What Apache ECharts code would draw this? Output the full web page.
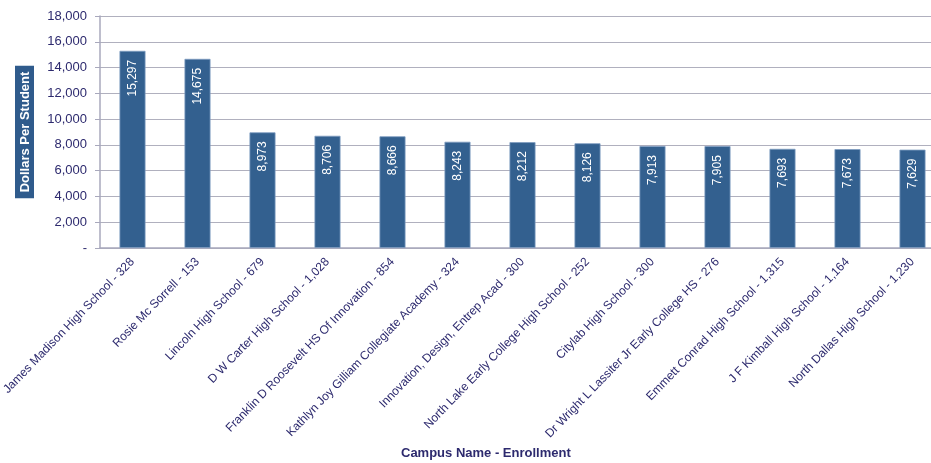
<!DOCTYPE html>
<html><head><meta charset="utf-8">
<script src="https://cdn.jsdelivr.net/npm/echarts@6/dist/echarts.min.js"></script>
<style>html,body{margin:0;padding:0;background:#fff}#c{width:931px;height:463px}</style>
</head><body><div id="c"></div>
<script>
const categories = [
  "James Madison High School - 328",
  "Rosie Mc Sorrell - 153",
  "Lincoln High School - 679",
  "D W Carter High School - 1,028",
  "Franklin D Roosevelt HS Of Innovation - 854",
  "Kathlyn Joy Gilliam Collegiate Academy - 324",
  "Innovation, Design, Entrep Acad - 300",
  "North Lake Early College High School - 252",
  "Citylab High School - 300",
  "Dr Wright L Lassiter Jr Early College HS - 276",
  "Emmett Conrad High School - 1,315",
  "J F Kimball High School - 1,164",
  "North Dallas High School - 1,230"
];
const values = [15297, 14675, 8973, 8706, 8666, 8243, 8212, 8126, 7913, 7905, 7693, 7673, 7629];
const yTicks = [0, 2000, 4000, 6000, 8000, 10000, 12000, 14000, 16000, 18000];
const xTitle = 'Campus Name - Enrollment';
const yTitle = 'Dollars Per Student';

const fmt = v => v === 0 ? '-' : v.toLocaleString('en-US');
const navy = '#2d2a6e';
const chart = echarts.init(document.getElementById('c'));
chart.setOption({
  animation: false,
  textStyle: { fontFamily: 'Liberation Sans, Arial, sans-serif' },
  grid: { left: 100, right: -14, top: 16, bottom: 215, containLabel: false, outerBoundsMode: 'none' },
  graphic: [{
    type: 'text',
    left: 488 - 87,
    top: 447,
    style: { text: xTitle, fill: navy, font: 'bold 13px "Liberation Sans", Arial, sans-serif' }
  }],
  xAxis: {
    type: 'category',
    data: categories,
    axisLine: { lineStyle: { color: '#a8a8bc', width: 1.5 } },
    axisTick: { show: false },
    axisLabel: { rotate: 46, color: navy, fontSize: 12, margin: 12, interval: 0 }
  },
  yAxis: {
    type: 'value',
    min: yTicks[0],
    max: yTicks[yTicks.length - 1],
    interval: 2000,
    name: yTitle,
    nameLocation: 'middle',
    nameRotate: 90,
    nameGap: 66,
    nameTextStyle: { color: '#fff', fontSize: 13, fontWeight: 'bold', backgroundColor: '#2f5b8c', padding: [4, 6, 2, 6] },
    axisLine: { show: true, lineStyle: { color: '#a8a8bc', width: 1.5 } },
    axisTick: { show: true, length: 5, lineStyle: { color: '#a8a8bc' } },
    splitLine: { lineStyle: { color: '#b0b0be', width: 1 } },
    axisLabel: { color: navy, fontSize: 13, margin: 13, formatter: fmt }
  },
  series: [{
    type: 'bar',
    data: values,
    barWidth: '40%',
    itemStyle: { color: '#33608f', borderColor: '#7d9cc0', borderWidth: 0.8 },
    label: {
      show: true,
      position: 'insideTop',
      rotate: 90,
      align: 'right',
      verticalAlign: 'middle',
      distance: 9,
      color: '#fff',
      fontSize: 12,
      formatter: p => fmt(p.value)
    }
  }]
});
</script></body></html>
